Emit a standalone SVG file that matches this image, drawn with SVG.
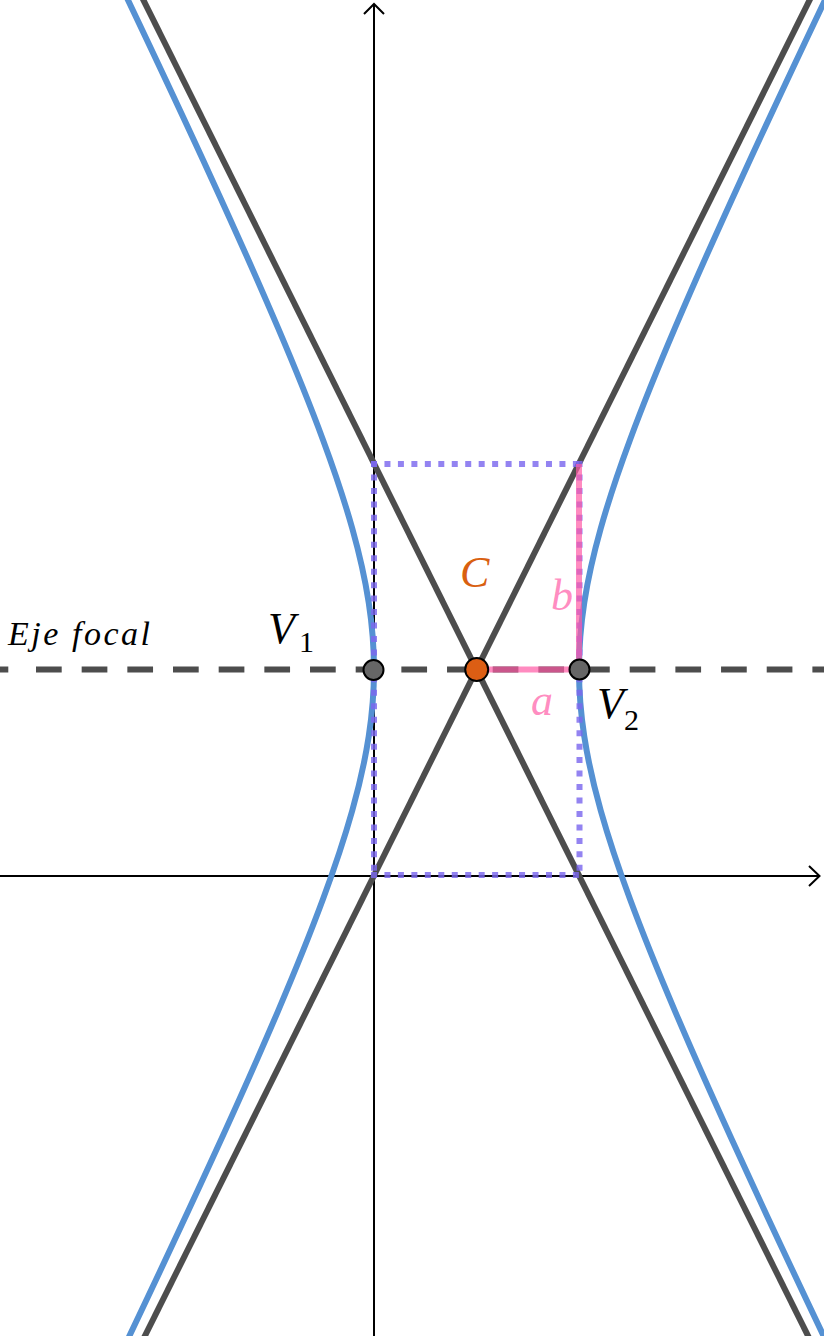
<svg xmlns="http://www.w3.org/2000/svg" width="824" height="1336" viewBox="0 0 824 1336">
<style>
.ax{stroke:#000;stroke-width:2;fill:none}
.hyp{stroke:#5591d3;stroke-width:6;fill:none}
.asy{stroke:#4d4d4d;stroke-width:6;fill:none}
.focal{stroke:#4d4d4d;stroke-width:6;fill:none}
.dot{stroke:#7b68ee;stroke-opacity:0.82;stroke-width:6;stroke-dasharray:6 7.46;fill:none}
.seg{stroke:#ff5aa5;stroke-opacity:0.7;stroke-width:6;fill:none}
.pt{fill:#666;stroke:#000;stroke-width:2}
text{font-family:'Liberation Serif',serif !important}
.it{font-style:italic !important}
.up{font-style:normal !important}
</style>
<rect width="824" height="1336" fill="#fff"/>
<g id="axes">
<line class="ax" x1="374" y1="1336" x2="374" y2="4"/>
<polyline class="ax" points="364,14 374,4 384,14"/>
<line class="ax" x1="0" y1="876" x2="819" y2="876"/>
<polyline class="ax" points="809,866 819.5,876 809,886"/>
</g>
<g id="hyperbola">
<path class="hyp" d="M833.59,-17.96 Q779.32,95.9 740.69,180.13 Q702.06,264.37 675.08,327.68 Q648.09,391.0 629.97,439.93 Q611.85,488.87 600.72,528.47 Q589.59,568.08 584.29,602.45 Q579,636.82 579,669.5 Q579,702.18 584.29,736.55 Q589.59,770.92 600.72,810.53 Q611.85,850.13 629.97,899.07 Q648.09,948.0 675.08,1011.32 Q702.06,1074.63 740.69,1158.87 Q779.32,1243.1 833.59,1356.96"/>
<path class="hyp" d="M119.41,-17.96 Q173.68,95.9 212.31,180.13 Q250.94,264.37 277.92,327.68 Q304.91,391.0 323.03,439.93 Q341.15,488.87 352.28,528.47 Q363.41,568.08 368.71,602.45 Q374,636.82 374,669.5 Q374,702.18 368.71,736.55 Q363.41,770.92 352.28,810.53 Q341.15,850.13 323.03,899.07 Q304.91,948.0 277.92,1011.32 Q250.94,1074.63 212.31,1158.87 Q173.68,1243.1 119.41,1356.96"/>
</g>
<g id="asymptotes">
<line class="asy" x1="814.6" y1="-10" x2="139.9" y2="1346"/>
<line class="asy" x1="138.4" y1="-10" x2="813.1" y2="1346"/>
</g>
<g id="focal-axis">
<line class="focal" x1="0" y1="669.5" x2="8.3" y2="669.5"/>
<line class="focal" x1="36" y1="669.5" x2="830" y2="669.5" stroke-dasharray="25.7 19.97"/>
</g>
<g id="rectangle">
<line class="dot" x1="371" y1="464" x2="582" y2="464"/>
<line class="dot" x1="371" y1="875" x2="582" y2="875"/>
<line class="dot" x1="374" y1="461" x2="374" y2="878"/>
<line class="dot" x1="579.5" y1="461" x2="579.5" y2="878"/>
</g>
<g id="segments">
<line class="seg" x1="476.5" y1="669.5" x2="579" y2="669.5"/>
<line class="seg" x1="579" y1="464" x2="579" y2="669.5"/>
</g>
<g id="V1">
<circle class="pt" cx="373.5" cy="670" r="10"/>
<text class="it" x="268" y="643" font-size="44" style="font-family:'Liberation Serif',serif;font-style:italic">V</text>
<text class="up" x="299" y="652" font-size="30" style="font-family:'Liberation Serif',serif">1</text>
</g>
<g id="C">
<circle cx="476.7" cy="669.5" r="11.5" fill="#dc5e14" stroke="#000" stroke-width="2"/>
<text class="it" x="460" y="587" font-size="44" fill="#d9600f" style="font-family:'Liberation Serif',serif;font-style:italic">C</text>
</g>
<g id="V2">
<circle class="pt" cx="579.5" cy="669.5" r="10"/>
<text class="it" x="597" y="718" font-size="44" style="font-family:'Liberation Serif',serif;font-style:italic">V</text>
<text class="up" x="624" y="730" font-size="30" style="font-family:'Liberation Serif',serif">2</text>
</g>
<g id="labels">
<text class="it" x="8" y="645" font-size="34" textLength="142" lengthAdjust="spacing" style="font-family:'Liberation Serif',serif;font-style:italic">Eje focal</text>
<text class="it" x="551" y="610" font-size="44" fill="#ff5aa5" fill-opacity="0.7" style="font-family:'Liberation Serif',serif;font-style:italic">b</text>
<text class="it" x="531" y="715" font-size="44" fill="#ff5aa5" fill-opacity="0.7" style="font-family:'Liberation Serif',serif;font-style:italic">a</text>
</g>
</svg>
